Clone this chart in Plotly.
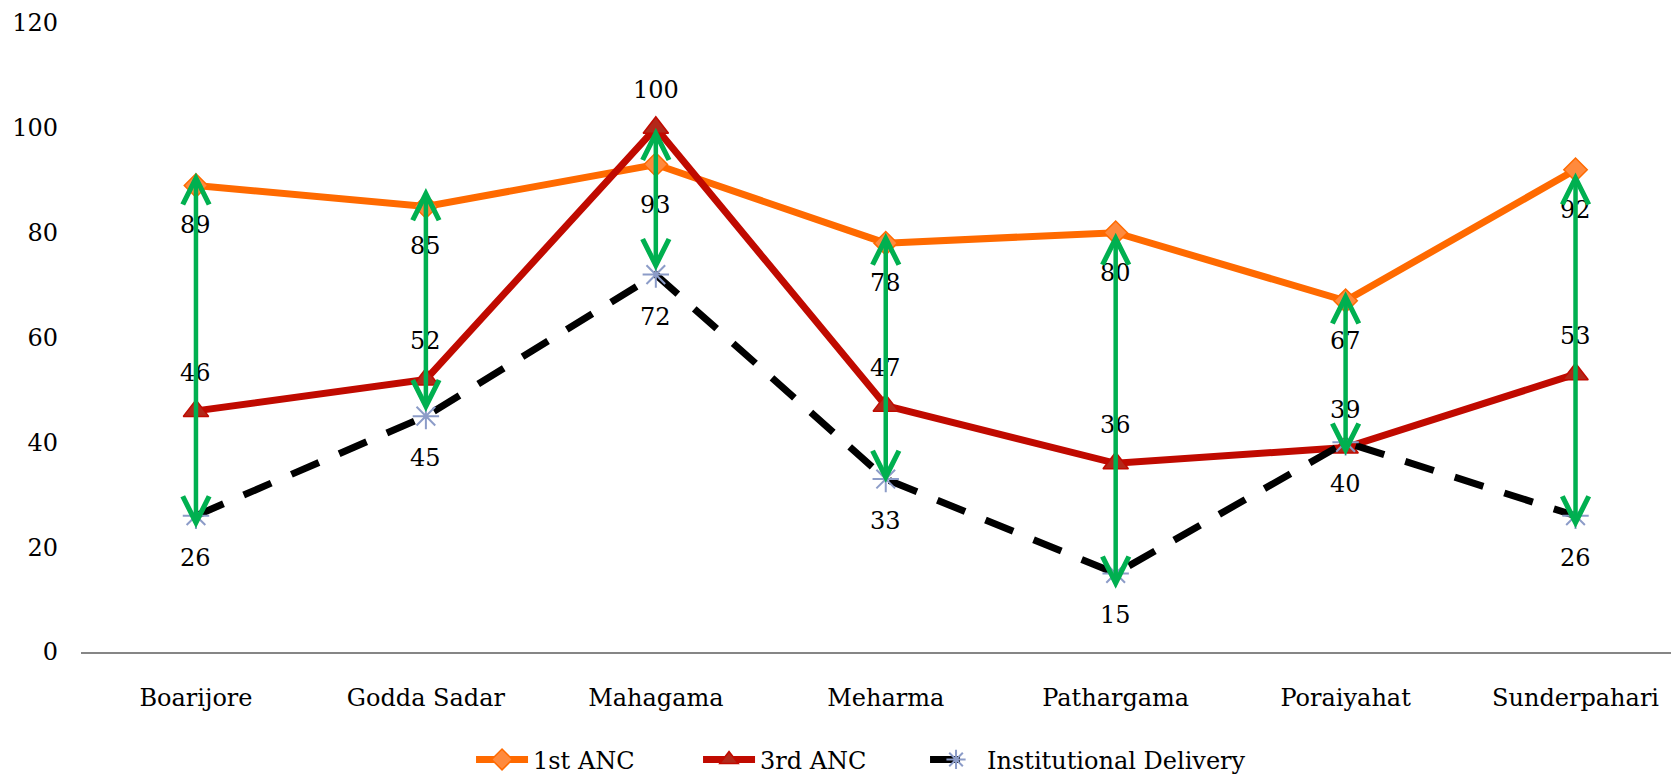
import plotly.graph_objects as go

blocks = ["Boarijore", "Godda Sadar", "Mahagama", "Meharma",
          "Pathargama", "Poraiyahat", "Sunderpahari"]
anc1 = [89, 85, 93, 78, 80, 67, 92]
anc3 = [46, 52, 100, 47, 36, 39, 53]
inst_delivery = [26, 45, 72, 33, 15, 40, 26]

# green gap arrows, ends
arrow_top = [91.5, 88.5, 100, 80, 80, 68.8, 91.5]
arrow_bottom = [23.3, 45.5, 72.4, 32, 11.8, 37.2, 23.3]

FONT = "DejaVu Serif"
x = list(range(len(blocks)))

fig = go.Figure()

fig.add_trace(go.Scatter(
    x=x, y=anc1, name="1st ANC", mode="lines+markers",
    line=dict(color="#FF6A00", width=7),
    marker=dict(symbol="diamond", size=18, color="#FF8A3D",
                line=dict(color="#FF6A00", width=1.5)),
))
fig.add_trace(go.Scatter(
    x=x, y=anc3, name="3rd ANC", mode="lines+markers",
    line=dict(color="#C00A00", width=7),
    marker=dict(symbol="triangle-up", size=22, color="#B3281A",
                line=dict(color="#C00A00", width=1.5)),
))
fig.add_trace(go.Scatter(
    x=x, y=inst_delivery, name="Institutional Delivery", mode="lines+markers",
    line=dict(color="black", width=7, dash="30px,22px"),
    marker=dict(symbol="asterisk-open", size=22, color="#8C9CC8",
                line=dict(color="#8C9CC8", width=2)),
    legendwidth=300,
))

annos = []
# data labels
for i in x:
    annos.append(dict(x=i, y=anc1[i], text=str(anc1[i]), showarrow=False, yshift=-40))
    annos.append(dict(x=i, y=anc3[i], text=str(anc3[i]), showarrow=False, yshift=38))
    annos.append(dict(x=i, y=inst_delivery[i], text=str(inst_delivery[i]),
                      showarrow=False, yshift=-42))
# double headed arrows
for i in x:
    annos.append(dict(
        x=i, y=arrow_top[i], ax=i, ay=arrow_bottom[i], axref="x", ayref="y",
        xref="x", yref="y", text="", showarrow=True,
        arrowhead=5, startarrowhead=5, arrowside="end+start",
        arrowsize=1.15, startarrowsize=1.15, arrowwidth=4.5, arrowcolor="#00B050",
    ))
for a in annos:
    a.setdefault("font", dict(family=FONT, size=24, color="black"))
    a.setdefault("xref", "x")
    a.setdefault("yref", "y")

# page body has an 8px margin, so the figure is 8px smaller than the window
fig.update_layout(
    width=1671, height=768,
    margin=dict(l=73, r=0, t=15, b=124),
    paper_bgcolor="white", plot_bgcolor="white",
    font=dict(family=FONT, size=24, color="black"),
    annotations=annos,
    showlegend=True,
    legend=dict(orientation="h", xref="container", yref="container",
                x=0.2771, xanchor="left", y=0.021, yanchor="middle",
                itemwidth=52, entrywidth=160, font=dict(family=FONT, size=24)),
)
fig.update_xaxes(
    range=[-0.5, 6.45], tickvals=x, ticktext=blocks,
    showgrid=False, zeroline=False, showline=True,
    linecolor="#868686", linewidth=2, ticks="", ticklabelstandoff=23,
)
fig.update_yaxes(
    range=[0, 120], tickvals=[0, 20, 40, 60, 80, 100, 120],
    showgrid=False, zeroline=False, showline=False, ticks="",
    ticklabelstandoff=22,
)

fig.write_html("out.html")
